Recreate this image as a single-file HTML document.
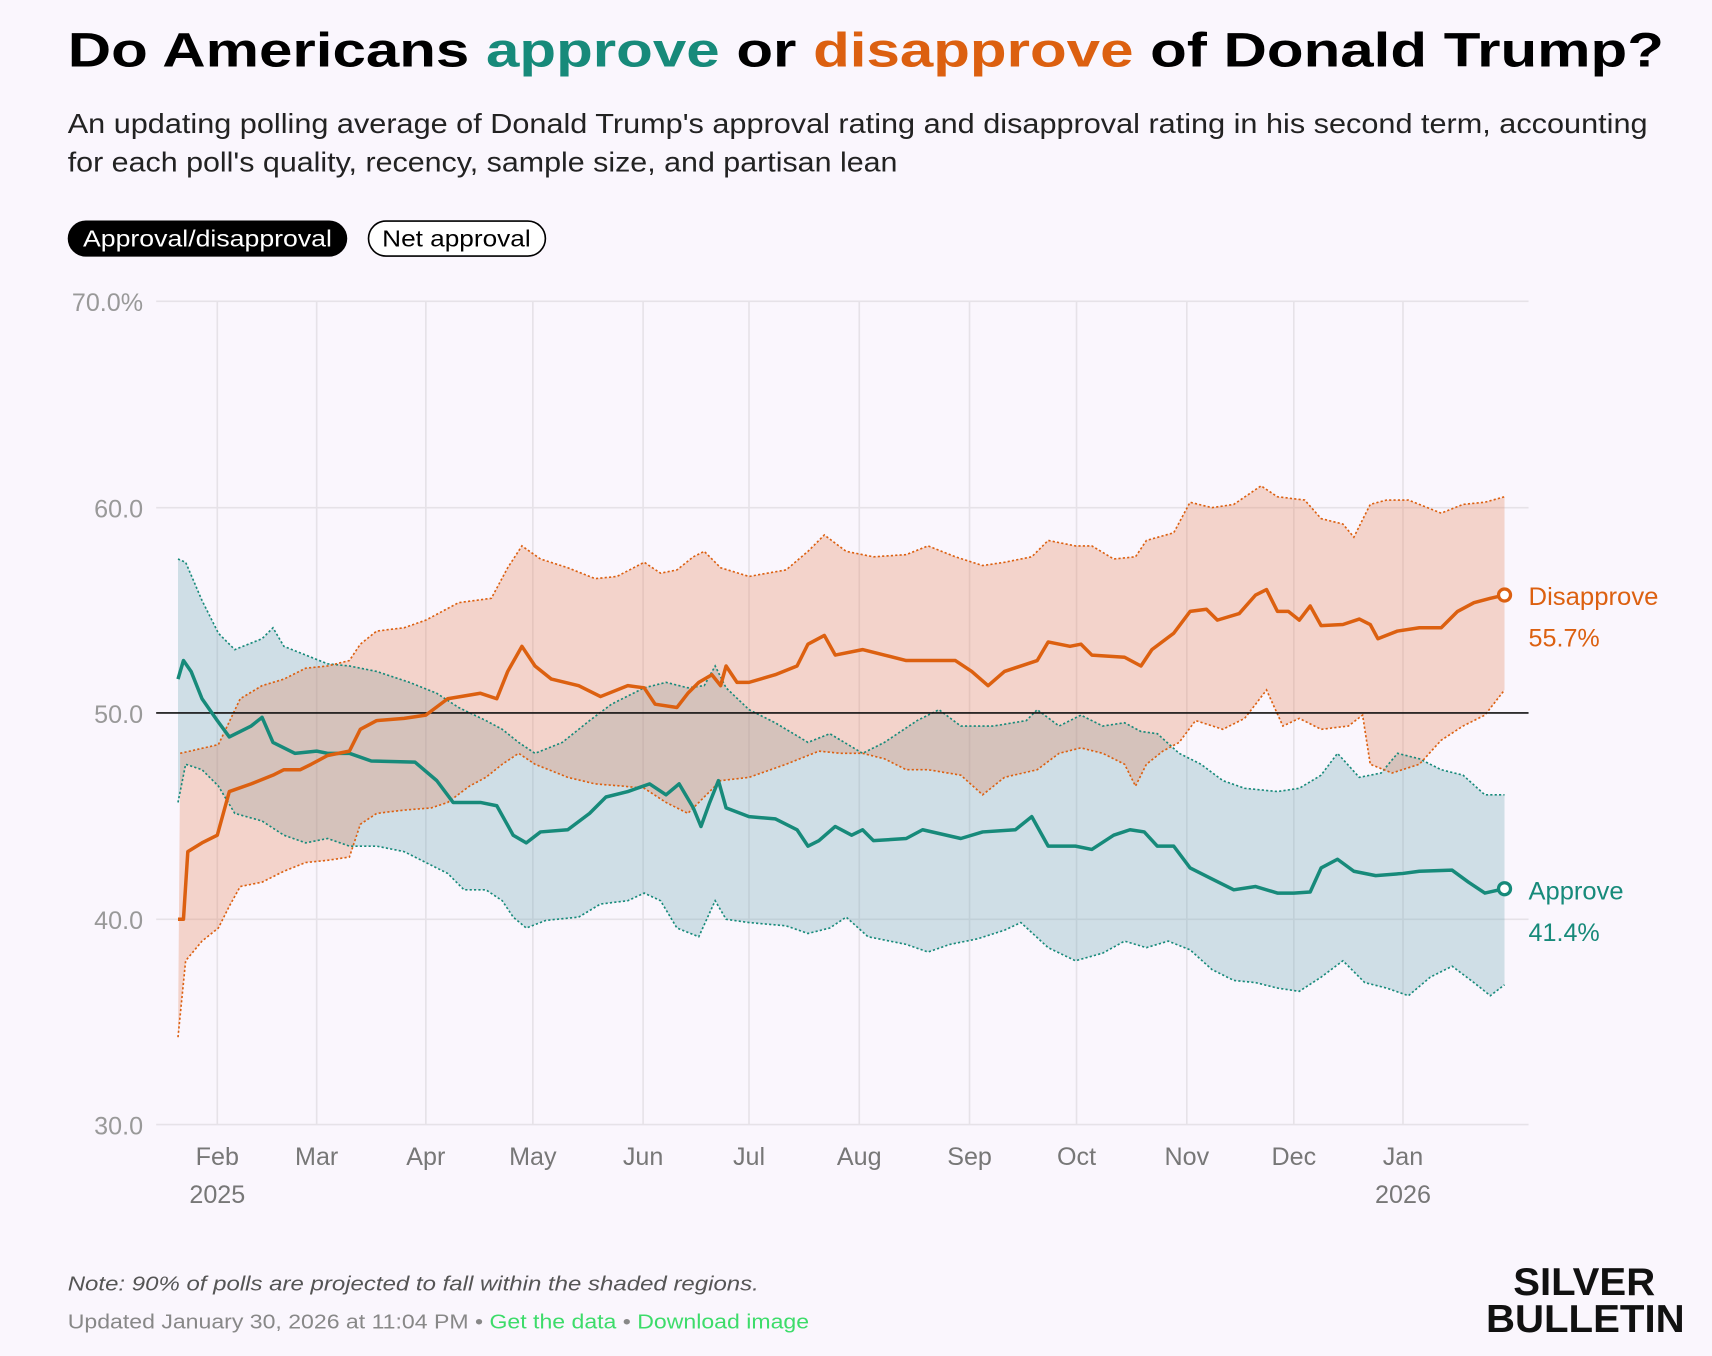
<!DOCTYPE html>
<html><head><meta charset="utf-8"><style>
html,body{margin:0;padding:0;background:#faf6fd;}
svg{display:block;}
text{font-family:"Liberation Sans",sans-serif;}
</style></head><body>
<svg width="1712" height="1356" viewBox="0 0 1568 1242" xmlns="http://www.w3.org/2000/svg">
<rect width="1568" height="1242" fill="#faf6fd"/>
<text x="62" y="61" font-size="44" font-weight="bold" textLength="1462" lengthAdjust="spacingAndGlyphs" fill="#000">Do Americans <tspan fill="#178a7a">approve</tspan> or <tspan fill="#dc6010">disapprove</tspan> of Donald Trump?</text>
<text x="62" y="122" font-size="25" textLength="1447" lengthAdjust="spacingAndGlyphs" fill="#222">An updating polling average of Donald Trump's approval rating and disapproval rating in his second term, accounting</text>
<text x="62" y="157" font-size="25" textLength="760" lengthAdjust="spacingAndGlyphs" fill="#222">for each poll's quality, recency, sample size, and partisan lean</text>
<rect x="62" y="202" width="256" height="33" rx="16.5" fill="#000"/>
<text x="190" y="226" font-size="21" fill="#fff" text-anchor="middle" textLength="228" lengthAdjust="spacingAndGlyphs">Approval/disapproval</text>
<rect x="337.5" y="202.5" width="162" height="32" rx="16" fill="#fff" stroke="#000" stroke-width="1.5"/>
<text x="418" y="226" font-size="21" fill="#000" text-anchor="middle" textLength="136" lengthAdjust="spacingAndGlyphs">Net approval</text>
<g stroke="#e6e2e8" stroke-width="1.5">
<line x1="143" y1="276" x2="1400" y2="276"/><line x1="143" y1="465" x2="1400" y2="465"/><line x1="143" y1="842" x2="1400" y2="842"/><line x1="143" y1="1030" x2="1400" y2="1030"/>
<line x1="199" y1="276" x2="199" y2="1030"/><line x1="290" y1="276" x2="290" y2="1030"/><line x1="390" y1="276" x2="390" y2="1030"/><line x1="488" y1="276" x2="488" y2="1030"/><line x1="589" y1="276" x2="589" y2="1030"/><line x1="686" y1="276" x2="686" y2="1030"/><line x1="787" y1="276" x2="787" y2="1030"/><line x1="888" y1="276" x2="888" y2="1030"/><line x1="986" y1="276" x2="986" y2="1030"/><line x1="1087" y1="276" x2="1087" y2="1030"/><line x1="1185" y1="276" x2="1185" y2="1030"/><line x1="1285" y1="276" x2="1285" y2="1030"/>
</g>
<g font-size="23" fill="#999" text-anchor="end">
<text x="131" y="285">70.0%</text><text x="131" y="474">60.0</text><text x="131" y="662">50.0</text><text x="131" y="851">40.0</text><text x="131" y="1039">30.0</text>
</g>
<g font-size="23" fill="#777" text-anchor="middle">
<text x="199" y="1067">Feb</text><text x="199" y="1102">2025</text><text x="290" y="1067">Mar</text><text x="390" y="1067">Apr</text><text x="488" y="1067">May</text><text x="589" y="1067">Jun</text><text x="686" y="1067">Jul</text><text x="787" y="1067">Aug</text><text x="888" y="1067">Sep</text><text x="986" y="1067">Oct</text><text x="1087" y="1067">Nov</text><text x="1185" y="1067">Dec</text><text x="1285" y="1067">Jan</text><text x="1285" y="1102">2026</text>
</g>
<!-- approve band -->
<polygon fill="rgba(110,165,180,0.3)" points="163,512 170,515 185,550 200,580 215,595 240,585 250,575 260,592 280,600 300,608 320,610 345,615 375,625 400,635 420,648 445,660 460,668 475,680 490,690 515,680 540,660 560,645 590,630 610,625 630,630 645,628 655,610 665,630 686,650 710,662 740,680 760,672 790,690 810,680 840,660 860,650 880,665 910,665 940,660 950,650 970,665 990,655 1010,665 1030,662 1045,670 1060,672 1080,690 1100,700 1120,715 1140,722 1170,725 1190,722 1210,710 1225,690 1245,712 1265,708 1280,690 1300,695 1320,705 1340,710 1360,728 1378,728 1378,902 1365,912 1350,900 1330,885 1310,895 1290,912 1270,905 1250,900 1230,880 1210,895 1190,908 1170,905 1150,900 1130,898 1110,888 1090,870 1070,862 1050,868 1030,862 1010,873 985,880 960,868 935,845 920,852 895,860 870,865 850,872 830,865 795,858 775,840 760,850 740,855 720,848 686,845 665,842 655,825 640,858 620,850 605,825 590,818 575,825 550,828 530,840 500,843 482,850 470,840 460,825 445,815 425,815 410,800 390,790 370,780 345,775 320,775 300,768 280,772 260,765 240,752 215,745 200,720 185,705 170,700 163,735"/>
<!-- disapprove band -->
<polygon fill="rgba(230,130,90,0.3)" points="165,690 200,682 220,640 240,628 260,622 280,612 300,610 320,605 330,590 345,578 370,575 390,568 405,560 420,552 450,548 465,520 478,500 495,512 520,520 545,530 565,528 590,515 605,525 620,522 635,510 645,505 660,520 686,528 720,522 740,505 755,490 775,505 800,510 830,508 850,500 875,510 900,518 920,515 945,510 960,495 985,500 1000,500 1020,512 1040,510 1050,495 1075,488 1090,460 1110,465 1130,462 1155,445 1170,455 1195,458 1210,475 1230,480 1240,492 1255,462 1270,458 1290,458 1320,470 1340,462 1360,460 1378,455 1378,632 1360,655 1340,665 1320,678 1300,700 1275,708 1255,700 1248,655 1235,665 1210,668 1190,658 1175,665 1160,632 1140,658 1120,668 1095,660 1080,680 1065,688 1050,700 1040,720 1030,700 1010,690 990,685 970,690 950,705 920,712 900,728 880,710 850,705 830,705 810,695 790,690 770,690 750,688 720,700 686,712 660,715 645,730 630,745 610,735 590,722 570,720 545,718 520,712 490,700 475,690 460,700 445,712 430,720 410,735 395,740 370,742 345,745 330,755 320,785 300,788 280,790 260,798 240,808 220,812 210,830 200,850 185,862 170,880 163,950"/>
<g fill="none" stroke-width="1.5" stroke-dasharray="2,2">
<polyline stroke="#178a7a" points="163,512 170,515 185,550 200,580 215,595 240,585 250,575 260,592 280,600 300,608 320,610 345,615 375,625 400,635 420,648 445,660 460,668 475,680 490,690 515,680 540,660 560,645 590,630 610,625 630,630 645,628 655,610 665,630 686,650 710,662 740,680 760,672 790,690 810,680 840,660 860,650 880,665 910,665 940,660 950,650 970,665 990,655 1010,665 1030,662 1045,670 1060,672 1080,690 1100,700 1120,715 1140,722 1170,725 1190,722 1210,710 1225,690 1245,712 1265,708 1280,690 1300,695 1320,705 1340,710 1360,728 1378,728"/>
<polyline stroke="#178a7a" points="163,735 170,700 185,705 200,720 215,745 240,752 260,765 280,772 300,768 320,775 345,775 370,780 390,790 410,800 425,815 445,815 460,825 470,840 482,850 500,843 530,840 550,828 575,825 590,818 605,825 620,850 640,858 655,825 665,842 686,845 720,848 740,855 760,850 775,840 795,858 830,865 850,872 870,865 895,860 920,852 935,845 960,868 985,880 1010,873 1030,862 1050,868 1070,862 1090,870 1110,888 1130,898 1150,900 1170,905 1190,908 1210,895 1230,880 1250,900 1270,905 1290,912 1310,895 1330,885 1350,900 1365,912 1378,902"/>
<polyline stroke="#dc6010" points="165,690 200,682 220,640 240,628 260,622 280,612 300,610 320,605 330,590 345,578 370,575 390,568 405,560 420,552 450,548 465,520 478,500 495,512 520,520 545,530 565,528 590,515 605,525 620,522 635,510 645,505 660,520 686,528 720,522 740,505 755,490 775,505 800,510 830,508 850,500 875,510 900,518 920,515 945,510 960,495 985,500 1000,500 1020,512 1040,510 1050,495 1075,488 1090,460 1110,465 1130,462 1155,445 1170,455 1195,458 1210,475 1230,480 1240,492 1255,462 1270,458 1290,458 1320,470 1340,462 1360,460 1378,455"/>
<polyline stroke="#dc6010" points="163,950 170,880 185,862 200,850 210,830 220,812 240,808 260,798 280,790 300,788 320,785 330,755 345,745 370,742 395,740 410,735 430,720 445,712 460,700 475,690 490,700 520,712 545,718 570,720 590,722 610,735 630,745 645,730 660,715 686,712 720,700 750,688 770,690 790,690 810,695 830,705 850,705 880,710 900,728 920,712 950,705 970,690 990,685 1010,690 1030,700 1040,720 1050,700 1065,688 1080,680 1095,660 1120,668 1140,658 1160,632 1175,665 1190,658 1210,668 1235,665 1248,655 1255,700 1275,708 1300,700 1320,678 1340,665 1360,655 1378,632"/>
</g>
<line x1="143" y1="653" x2="1400" y2="653" stroke="#111" stroke-width="1.5"/>
<polyline fill="none" stroke="#178a7a" stroke-width="3.2" stroke-linejoin="round" points="163,622 168,605 175,615 185,640 199,660 210,675 230,665 240,657 250,680 270,690 290,688 300,690 320,690 340,697 380,698 400,715 415,735 440,735 455,738 470,765 482,772 495,762 520,760 540,745 555,730 575,725 595,718 610,728 622,718 635,740 642,757 650,735 658,715 665,740 686,748 710,750 730,760 740,775 750,770 765,757 780,765 790,760 800,770 830,768 845,760 880,768 900,762 930,760 945,748 960,775 985,775 1000,778 1020,765 1035,760 1048,762 1060,775 1075,775 1090,795 1110,805 1130,815 1150,812 1170,818 1185,818 1200,817 1210,795 1225,787 1240,798 1260,802 1285,800 1300,798 1330,797 1345,808 1360,818 1378,814"/>
<polyline fill="none" stroke="#dc6010" stroke-width="3.2" stroke-linejoin="round" points="163,842 168,842 172,780 185,772 199,765 210,725 230,718 250,710 260,705 275,705 285,700 300,692 320,688 330,668 345,660 370,658 390,655 410,640 440,635 455,640 465,615 478,592 490,610 505,622 530,628 550,638 575,628 590,630 600,645 620,648 630,635 640,625 652,618 660,628 665,610 675,625 686,625 710,618 730,610 740,590 755,582 765,600 790,595 810,600 830,605 850,605 875,605 890,615 905,628 920,615 950,605 960,588 980,592 990,590 1000,600 1030,602 1045,610 1055,595 1075,580 1090,560 1105,558 1115,568 1135,562 1150,545 1160,540 1170,560 1180,560 1190,568 1200,555 1210,573 1230,572 1245,567 1255,572 1262,585 1280,578 1300,575 1320,575 1335,560 1350,552 1365,548 1378,545"/>
<circle cx="1378" cy="545" r="5.5" fill="#fff" stroke="#dc6010" stroke-width="3"/>
<circle cx="1378" cy="814" r="5.5" fill="#fff" stroke="#178a7a" stroke-width="3"/>
<g font-size="23" fill="#dc6010"><text x="1400" y="554" textLength="119" lengthAdjust="spacingAndGlyphs">Disapprove</text><text x="1400" y="592">55.7%</text></g>
<g font-size="23" fill="#178a7a"><text x="1400" y="824" textLength="87" lengthAdjust="spacingAndGlyphs">Approve</text><text x="1400" y="862">41.4%</text></g>
<text x="62" y="1182" font-size="19" font-style="italic" fill="#555" textLength="633" lengthAdjust="spacingAndGlyphs">Note: 90% of polls are projected to fall within the shaded regions.</text>
<text x="62" y="1217" font-size="19" fill="#888" textLength="679" lengthAdjust="spacingAndGlyphs">Updated January 30, 2026 at 11:04 PM • <tspan fill="#3ddc6a">Get the data</tspan> • <tspan fill="#3ddc6a">Download image</tspan></text>
<g font-size="36" font-weight="bold" fill="#111">
<text x="1386" y="1186" textLength="130" lengthAdjust="spacingAndGlyphs">SILVER</text>
<text x="1361" y="1220" textLength="182" lengthAdjust="spacingAndGlyphs">BULLETIN</text>
</g>
</svg>
</body></html>
